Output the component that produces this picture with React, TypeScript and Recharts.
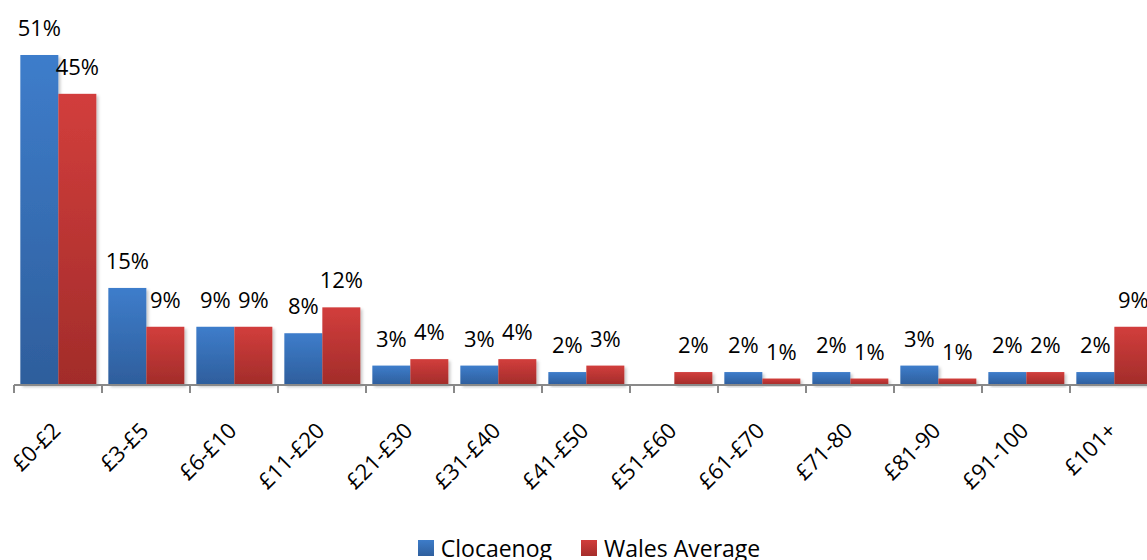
import React from 'react';
import { BarChart, Bar, XAxis, YAxis, LabelList, Legend } from 'recharts';

const categories = ['£0-£2', '£3-£5', '£6-£10', '£11-£20', '£21-£30', '£31-£40', '£41-£50', '£51-£60', '£61-£70', '£71-80', '£81-90', '£91-100', '£101+'];
const clocaenog = [51, 15, 9, 8, 3, 3, 2, 0, 2, 2, 3, 2, 2];
const walesAverage = [45, 9, 9, 12, 4, 4, 3, 2, 1, 1, 1, 2, 9];

const data = categories.map((name, i) => ({ name, clocaenog: clocaenog[i], wales: walesAverage[i] }));

const FONT = '"Open Sans", "Liberation Sans", sans-serif';
const CHART_W = 1160;
const MARGIN = { top: 0, right: 2, left: 14, bottom: 0 };
const band = (CHART_W - MARGIN.left - MARGIN.right) / categories.length;

const pct = (v: any) => (v ? `${v}%` : '');

const ShadowBar = (props: any) => {
  const { x, y, width, height, fill } = props;
  if (!height || height <= 0) return null;
  return <rect x={x} y={y} width={width} height={height} fill={fill} filter="url(#barShadow)" />;
};

const AxisTick = (props: any) => {
  const { x, y, payload, index } = props;
  const axisY = y - 8;
  return (
    <g>
      <line x1={x - band / 2} x2={x - band / 2} y1={axisY} y2={axisY + 8} stroke="#898989" strokeWidth={2} />
      {index === categories.length - 1 && (
        <line x1={x + band / 2} x2={x + band / 2} y1={axisY} y2={axisY + 8} stroke="#898989" strokeWidth={2} />
      )}
      <g transform={`translate(${x + 4},${y + 39})`}>
        <text transform="rotate(-45)" textAnchor="end" fontSize={22} fontFamily={FONT} fill="#000">
          {payload.value}
        </text>
      </g>
    </g>
  );
};

const LegendContent = () => (
  <div style={{ display: 'flex', justifyContent: 'center', alignItems: 'center', height: 24, fontFamily: FONT, fontSize: 23, color: '#000', paddingLeft: 6 }}>
    <span style={{ display: 'inline-block', width: 16, height: 16, background: 'linear-gradient(#3d7cc9, #2f5f9d)', marginRight: 7 }} />
    <span style={{ marginRight: 29 }}>Clocaenog</span>
    <span style={{ display: 'inline-block', width: 16, height: 16, background: 'linear-gradient(#d13d3b, #a52d2b)', marginRight: 7 }} />
    <span>Wales Average</span>
  </div>
);

export default function App() {
  return (
    <div style={{ position: 'absolute', left: 0, top: 0, width: 1147, height: 560, overflow: 'hidden', background: '#fff' }}>
      <BarChart width={CHART_W} height={560} data={data} margin={MARGIN} barCategoryGap="7.2%" barGap={0}>
        <defs>
          <linearGradient id="gradBlue" x1="0" y1="0" x2="0" y2="1">
            <stop offset="0%" stopColor="#3e7dcb" />
            <stop offset="100%" stopColor="#2e5e9c" />
          </linearGradient>
          <linearGradient id="gradRed" x1="0" y1="0" x2="0" y2="1">
            <stop offset="0%" stopColor="#d23e3c" />
            <stop offset="100%" stopColor="#a22c2a" />
          </linearGradient>
          <filter id="barShadow" x="-10%" y="-10%" width="130%" height="130%">
            <feDropShadow dx="2" dy="2" stdDeviation="1.5" floodColor="#000" floodOpacity="0.22" />
          </filter>
        </defs>
        <XAxis
          dataKey="name"
          interval={0}
          height={151}
          axisLine={{ stroke: '#898989', strokeWidth: 2 }}
          tickLine={false}
          tickSize={8}
          tickMargin={0}
          tick={<AxisTick />}
        />
        <YAxis hide domain={[0, 59.5]} />
        <Legend verticalAlign="bottom" content={<LegendContent />} />
        <Bar dataKey="clocaenog" name="Clocaenog" fill="url(#gradBlue)" shape={<ShadowBar />} isAnimationActive={false}>
          <LabelList dataKey="clocaenog" position="top" offset={19} formatter={pct} style={{ fontSize: 22, fontFamily: FONT, fill: '#000' }} />
        </Bar>
        <Bar dataKey="wales" name="Wales Average" fill="url(#gradRed)" shape={<ShadowBar />} isAnimationActive={false}>
          <LabelList dataKey="wales" position="top" offset={19} formatter={pct} style={{ fontSize: 22, fontFamily: FONT, fill: '#000' }} />
        </Bar>
      </BarChart>
    </div>
  );
}
